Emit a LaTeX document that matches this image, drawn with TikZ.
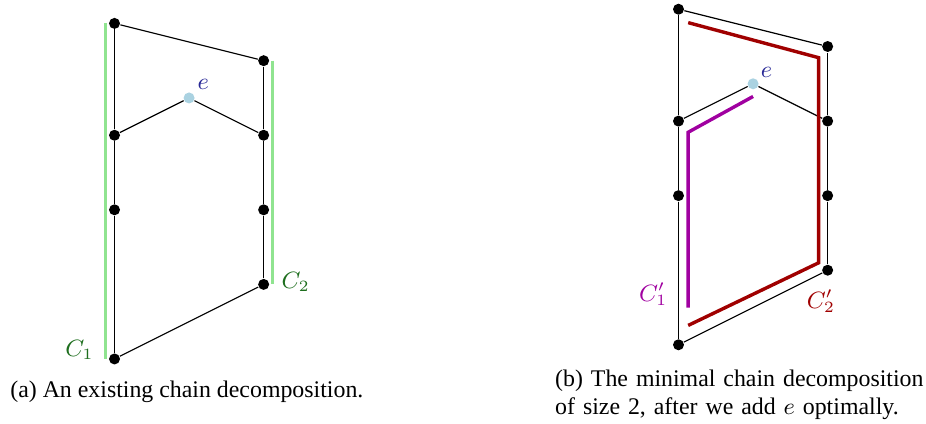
\documentclass[tikz,border=0pt]{standalone}
\usepackage{amsmath}
\usepackage{fontspec}
\setmainfont{Liberation Serif}
\usepackage{tikz}
\usetikzlibrary{positioning}

\definecolor{chaingreen}{RGB}{144,228,144}
\definecolor{labelgreen}{RGB}{30,110,30}
\definecolor{chainred}{RGB}{160,0,0}
\definecolor{chainviolet}{RGB}{160,0,160}
\definecolor{elemblue}{RGB}{170,210,225}
\definecolor{labelblue}{RGB}{40,40,150}

\begin{document}
\begin{tikzpicture}[font=\fontsize{8.6}{10.4}\selectfont]
\useasboundingbox (-1.5355,-0.866) rectangle (10.8823,4.8137);
\tikzset{vertex/.style={circle,fill=black,inner sep=0pt,minimum size=4.2pt},
         newvertex/.style={circle,fill=elemblue,inner sep=0pt,minimum size=4.2pt},
         poset_edge/.style={draw=black,line width=0.45pt},
         chain/.style={line width=1.3pt}}

% (a) existing decomposition
\begin{scope}[every node/.style={vertex}]
    \node (a0) at (0,0) {};
    \node (a1) at (0,2) {};
    \node (a2) at (0,3) {};
    \node (a3) at (0,4.5) {};
    \node (b0) at (2,1) {};
    \node (b1) at (2,2) {};
    \node (b2) at (2,3) {};
    \node (b3) at (2,4) {};
    \node[newvertex] (e) at (1,3.5) {};
\end{scope}
\path (a0) edge [poset_edge] (a1);
\path (a1) edge [poset_edge] (a2);
\path (a2) edge [poset_edge] (a3);
\path (b0) edge [poset_edge] (b1);
\path (b1) edge [poset_edge] (b2);
\path (b2) edge [poset_edge] (b3);
\path (a3) edge [poset_edge] (b3);
\path (a0) edge [poset_edge] (b0);
\path (a2) edge [poset_edge] (e);
\path (e) edge [poset_edge] (b2);
\draw[chain,chaingreen] (-0.12,4.5) -- (-0.12,0);
\draw[chain,chaingreen] (2.12,4) -- (2.12,1);
\node[text=labelgreen] (c1) at (-0.47,0.12) {$C_1$};
\node[text=labelgreen] (c2) at (2.43,1.03) {$C_2$};
\node[text=labelblue] (elab) at (1.19,3.68) {$e$};
\node[font=\fontsize{9.1}{10.9}\selectfont] (capa) at (0.97,-0.44)
    {(a) An existing chain decomposition.};

% (b) minimal decomposition
\begin{scope}[shift={(7.5633,0.19)}]
\begin{scope}[every node/.style={vertex}]
    \node (p0) at (0,0) {};
    \node (p1) at (0,2) {};
    \node (p2) at (0,3) {};
    \node (p3) at (0,4.5) {};
    \node (q0) at (2,1) {};
    \node (q1) at (2,2) {};
    \node (q2) at (2,3) {};
    \node (q3) at (2,4) {};
    \node[newvertex] (f) at (1,3.5) {};
\end{scope}
\path (p0) edge [poset_edge] (p1);
\path (p1) edge [poset_edge] (p2);
\path (p2) edge [poset_edge] (p3);
\path (q0) edge [poset_edge] (q1);
\path (q1) edge [poset_edge] (q2);
\path (q2) edge [poset_edge] (q3);
\path (p3) edge [poset_edge] (q3);
\path (p0) edge [poset_edge] (q0);
\path (p2) edge [poset_edge] (f);
\path (f) edge [poset_edge] (q2);
\draw[chain,chainred] (0.13,4.32) -- (1.88,3.85) -- (1.88,1.1) -- (0.13,0.26);
\draw[chain,chainviolet] (1.0,3.33) -- (0.13,2.85) -- (0.13,0.5);
\node[text=chainviolet] (c1p) at (-0.34,0.68) {$C_1'$};
\node[text=chainred] (c2p) at (1.91,0.59) {$C_2'$};
\node[text=labelblue] (flab) at (1.18,3.65) {$e$};
\end{scope}
\node[text width=5.2cm,align=left,font=\fontsize{9.1}{10.9}\selectfont] (capb) at (8.51,-0.48)
    {(b) The minimal chain decomposition of size 2, after we add $e$ optimally.};
\end{tikzpicture}
\end{document}
